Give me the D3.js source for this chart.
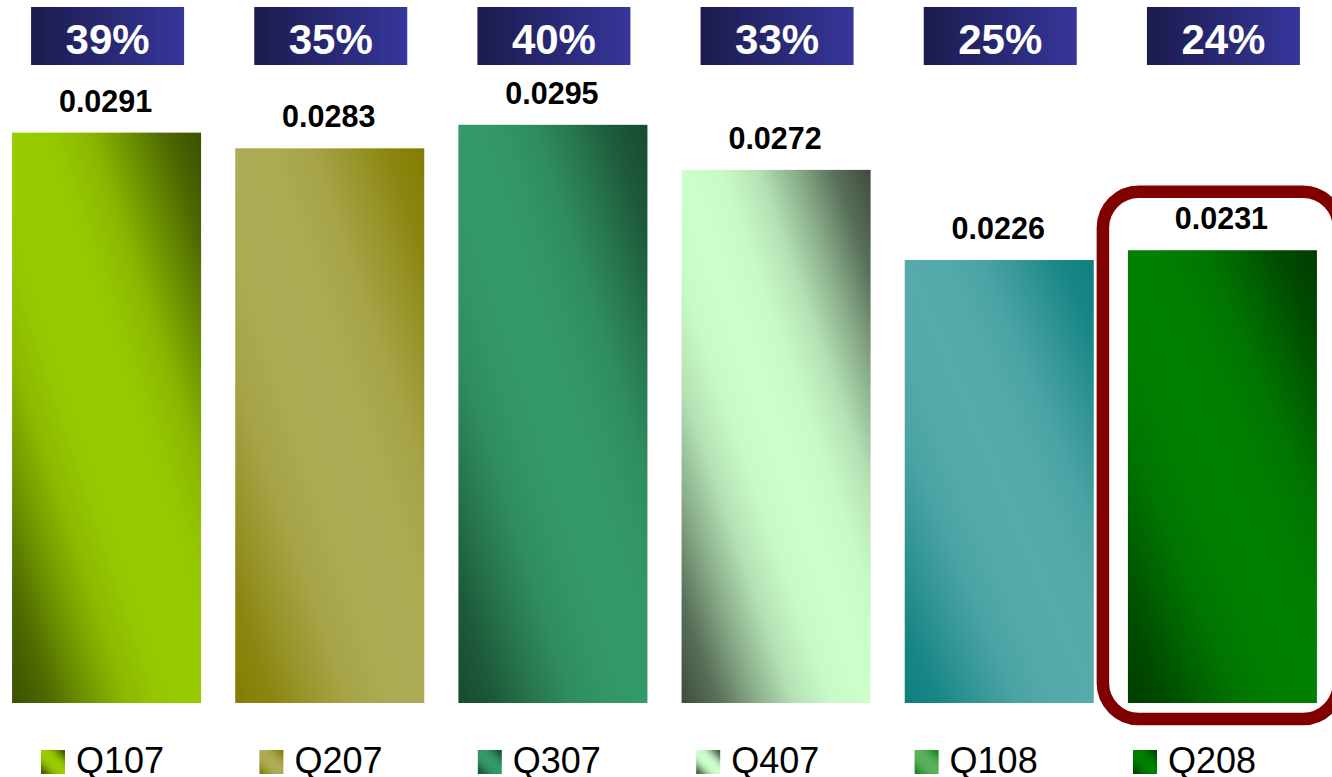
<!DOCTYPE html>
<html>
<head>
<meta charset="utf-8">
<script src="https://cdn.jsdelivr.net/npm/d3@7"></script>
<style>
  html, body { margin: 0; padding: 0; background: #ffffff; }
  svg { display: block; }
  text { font-family: Arial, "Liberation Sans", sans-serif; }
</style>
</head>
<body>
<svg id="chart" width="1332" height="777"></svg>
<script>
// Quarterly values
const categories = ["Q107", "Q207", "Q307", "Q407", "Q108", "Q208"];
const values = [0.0291, 0.0283, 0.0295, 0.0272, 0.0226, 0.0231];
const shareLabels = ["39%", "35%", "40%", "33%", "25%", "24%"];

// Bar fills: light body colour and dark corner colour per quarter
const lightColors = ["#99cc00", "#adab55", "#339966", "#ccffcc", "#56aaab", "#008000"];
const darkColors  = ["#3b5000", "#827d00", "#184a30", "#3c4c3c", "#0c7e7e", "#003d00"];
// Legend swatch colours (the Q108 key uses a green fill)
const swatchLight = ["#99cc00", "#adab55", "#339966", "#ccffcc", "#5caf5c", "#008000"];
const swatchDark  = ["#3b5000", "#827d00", "#184a30", "#3c4c3c", "#138513", "#003d00"];

const highlighted = "Q208";

const svg = d3.select("#chart");
const defs = svg.append("defs");

const x = d3.scaleBand()
  .domain(categories)
  .range([-5, 1334])
  .paddingInner(0.153)
  .paddingOuter(0.0765);

const y = d3.scaleLinear()
  .domain([0, 0.035])
  .range([703, 17]);

// Diagonal gradient: dark at top-right and bottom-left, light band through the middle
function diagGradient(id, light, dark) {
  const g = defs.append("linearGradient")
    .attr("id", id)
    .attr("x1", 0).attr("y1", 1)
    .attr("x2", 1).attr("y2", 0);
  const mix = d3.interpolateRgb(dark, light);
  const stops = [
    [0, 0], [0.1, 0.2], [0.2, 0.54], [0.3, 0.84], [0.4, 0.97], [0.5, 1],
    [0.6, 0.97], [0.7, 0.84], [0.8, 0.54], [0.9, 0.2], [1, 0]
  ];
  stops.forEach(([o, t]) => g.append("stop").attr("offset", o).attr("stop-color", mix(t)));
  return `url(#${id})`;
}

const barFill = categories.map((c, i) => diagGradient("bar-" + c, lightColors[i], darkColors[i]));
const keyFill = categories.map((c, i) => diagGradient("key-" + c, swatchLight[i], swatchDark[i]));

// Header gradient (navy)
const hg = defs.append("linearGradient").attr("id", "hdr")
  .attr("x1", 0).attr("y1", 0).attr("x2", 1).attr("y2", 0);
hg.append("stop").attr("offset", 0).attr("stop-color", "#1c1b4d");
hg.append("stop").attr("offset", 1).attr("stop-color", "#36369c");

const data = categories.map((c, i) => ({ cat: c, v: values[i], share: shareLabels[i], i }));

// Bars
svg.append("g").selectAll("rect")
  .data(data)
  .join("rect")
  .attr("x", d => x(d.cat))
  .attr("y", d => y(d.v))
  .attr("width", x.bandwidth())
  .attr("height", d => y(0) - y(d.v))
  .attr("fill", d => barFill[d.i]);

// Value labels above bars
svg.append("g").selectAll("text")
  .data(data)
  .join("text")
  .attr("x", d => x(d.cat) + x.bandwidth() / 2 - 1)
  .attr("y", d => y(d.v) - 21)
  .attr("text-anchor", "middle")
  .attr("font-size", 30.5)
  .attr("font-weight", "bold")
  .attr("fill", "#000")
  .text(d => d.v.toFixed(4));

// Share header boxes
const hdr = svg.append("g").selectAll("g")
  .data(data)
  .join("g")
  .attr("transform", d => `translate(${x(d.cat) + x.bandwidth() / 2 + 1},0)`);
hdr.append("rect")
  .attr("x", -76.5).attr("y", 7)
  .attr("width", 153).attr("height", 58)
  .attr("fill", "url(#hdr)");
hdr.append("text")
  .attr("x", 0).attr("y", 54)
  .attr("text-anchor", "middle")
  .attr("font-size", 42)
  .attr("font-weight", "bold")
  .attr("fill", "#ffffff")
  .text(d => d.share);

// Highlight frame around the latest quarter
const hv = values[categories.indexOf(highlighted)];
svg.append("rect")
  .attr("x", x(highlighted) - 25)
  .attr("y", y(hv) - 58.5)
  .attr("width", x.bandwidth() + 47)
  .attr("height", y(0) + 16 - (y(hv) - 58.5))
  .attr("rx", 36).attr("ry", 36)
  .attr("fill", "none")
  .attr("stroke", "#800000")
  .attr("stroke-width", 12.5);

// Legend
const lx = d3.scalePoint().domain(categories).range([41, 1133]);
const leg = svg.append("g").selectAll("g")
  .data(data)
  .join("g")
  .attr("transform", d => `translate(${lx(d.cat)},750)`);
leg.append("rect")
  .attr("x", 0).attr("y", 0)
  .attr("width", 24).attr("height", 24)
  .attr("fill", d => keyFill[d.i]);
leg.append("text")
  .attr("x", 35).attr("y", 22.5)
  .attr("font-size", 36)
  .attr("fill", "#000")
  .text(d => d.cat);
</script>
</body>
</html>
